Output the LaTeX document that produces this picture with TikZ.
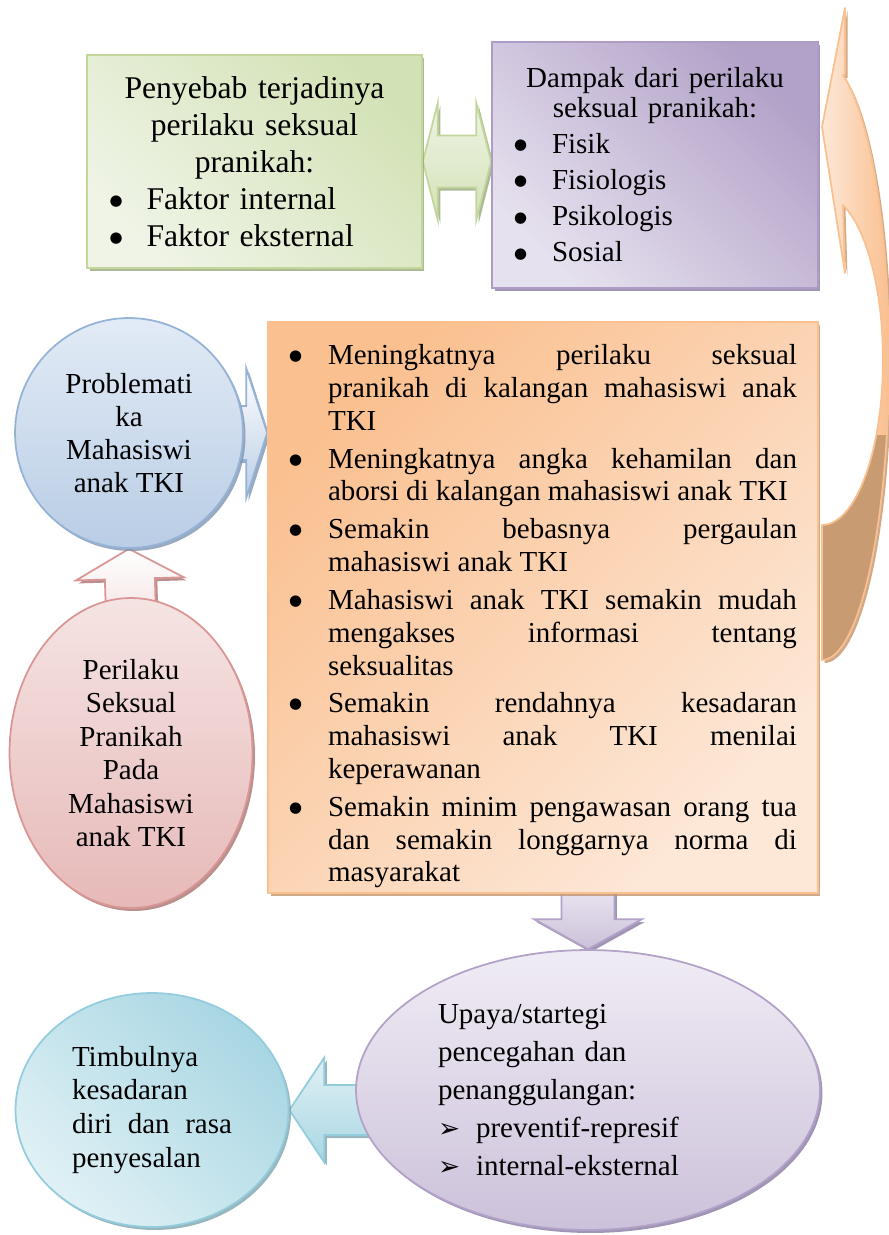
\documentclass[tikz,border=0pt]{standalone}
\usepackage{fontspec}
\setmainfont{Liberation Serif}
\newfontfamily\dejavu{DejaVu Sans}
\usetikzlibrary{shapes.geometric,shadows,calc,backgrounds}

\definecolor{hijaugaris}{HTML}{C3D69B}
\definecolor{hijautua}{HTML}{D3E2B6}
\definecolor{hijaumuda}{HTML}{EFF4E6}
\definecolor{hijaubayang}{HTML}{97A97A}
\definecolor{ungugaris}{HTML}{AE9CC6}
\definecolor{ungutua}{HTML}{B2A1C8}
\definecolor{ungumuda}{HTML}{E6E1EE}
\definecolor{ungubayang}{HTML}{8A7AA3}
\definecolor{oranyegaris}{HTML}{FAC090}
\definecolor{oranyemuda}{HTML}{FDE8D8}
\definecolor{oranyebayang}{HTML}{C4936B}
\definecolor{birugaris}{HTML}{95B3D7}
\definecolor{birutua}{HTML}{B9CDE5}
\definecolor{birumuda}{HTML}{E2EBF6}
\definecolor{birubayang}{HTML}{7F95B0}
\definecolor{merahgaris}{HTML}{D99694}
\definecolor{merahtua}{HTML}{E6B9B8}
\definecolor{merahmuda}{HTML}{F5E4E3}
\definecolor{merahbayang}{HTML}{A87472}
\definecolor{lavgaris}{HTML}{B3A2C7}
\definecolor{lavtua}{HTML}{CCC1DA}
\definecolor{lavmuda}{HTML}{F0ECF5}
\definecolor{toscagaris}{HTML}{93CDDD}
\definecolor{toscatua}{HTML}{A8D6E3}
\definecolor{toscamuda}{HTML}{E0F1F5}
\definecolor{toscabayang}{HTML}{7FA4AE}
\definecolor{coklat}{HTML}{C99B73}

\newcommand{\titik}[1]{\makebox[#1][l]{\raisebox{2.2pt}{\dejavu\fontsize{8.5}{8.5}\selectfont ●}}}
\newcommand{\poin}[1]{\par\hangindent=0.78cm\hangafter=1\noindent\titik{0.78cm}#1\par}
\newcommand{\panahkanan}[1]{\makebox[#1][l]{\dejavu\fontsize{15}{15}\selectfont ➢}}

\newcommand{\panahsatu}[6]{%
  \path ($(#3)!#6!(#2)$) coordinate (leher);
  \draw[#1] ($(#2)!#4!90:(#3)$) -- ($(leher)!#4!90:(#3)$) -- ($(leher)!#5!90:(#3)$) -- (#3)
    -- ($(leher)!#5!-90:(#3)$) -- ($(leher)!#4!-90:(#3)$) -- ($(#2)!#4!-90:(#3)$) -- cycle;}
\newcommand{\panahdua}[6]{%
  \path ($(#2)!#6!(#3)$) coordinate (leherA) ($(#3)!#6!(#2)$) coordinate (leherB);
  \draw[#1] (#2) -- ($(leherA)!#5!90:(#3)$) -- ($(leherA)!#4!90:(#3)$) -- ($(leherB)!#4!-90:(#2)$)
    -- ($(leherB)!#5!-90:(#2)$) -- (#3) -- ($(leherB)!#5!90:(#2)$) -- ($(leherB)!#4!90:(#2)$)
    -- ($(leherA)!#4!-90:(#3)$) -- ($(leherA)!#5!-90:(#3)$) -- cycle;}

\newcommand{\jalurlengkung}{(845,8) -- (845,75)
  -- plot[domain=-71.8:90, samples=60, variable=\t] ({822+67*cos(\t)},{360+300*sin(\t)})
  -- (822,525)
  -- plot[domain=90:-69.9, samples=60, variable=\t] ({822+61*cos(\t)},{360+165*sin(\t)})
  -- (845,273) -- (822,127) -- cycle}

\tikzset{
  bayangan/.style={drop shadow={shadow xshift=0.05cm, shadow yshift=-0.06cm, fill=#1, opacity=0.8}},
  kotak/.style={rectangle, line width=1pt, inner sep=0pt},
  elips/.style={ellipse, line width=1pt, inner sep=0pt},
  panah/.style={line width=1pt, line join=miter},
}

\begin{document}
\begin{tikzpicture}[x=0.02cm, y=-0.02cm]
  \useasboundingbox (0,0) rectangle (889,1235);

  \node[kotak, draw=hijaugaris, top color=hijautua, bottom color=hijaumuda, shading angle=-45,
    bayangan=hijaubayang, minimum width=6.7cm, minimum height=4.26cm, text width=5.8cm, align=left,
    font=\fontsize{18}{21}\selectfont] (penyebab) at (254.5,161.5)
    {{\centering Penyebab terjadinya\\ perilaku seksual\\ pranikah:\par}
     \titik{0.74cm}Faktor internal\\ \titik{0.74cm}Faktor eksternal};

  \node[kotak, draw=ungugaris, top color=ungutua, bottom color=ungumuda, shading angle=-45,
    bayangan=ungubayang, minimum width=6.52cm, minimum height=4.92cm, text width=5.64cm, align=left,
    font=\fontsize{16.5}{17}\selectfont] (dampak) at (655,165)
    {{\centering Dampak dari perilaku\\ seksual pranikah:\par}
     {\fontsize{16.5}{20.5}\selectfont \titik{0.76cm}Fisik\\ \titik{0.76cm}Fisiologis\\
     \titik{0.76cm}Psikologis\\ \titik{0.76cm}Sosial\par}};

  \node[kotak, draw=oranyegaris, top color=oranyegaris, bottom color=oranyemuda, shading angle=45,
    bayangan=oranyebayang, minimum width=11cm, minimum height=11.42cm, text width=10.16cm, align=justify,
    font=\fontsize{16.5}{18.7}\selectfont] (akibat) at (543,607.5)
    {\setlength{\parskip}{2.8pt}\hyphenpenalty=10000
     \poin{Meningkatnya perilaku seksual\linebreak pranikah di kalangan mahasiswi anak\linebreak TKI}
     \poin{Meningkatnya angka kehamilan dan\linebreak aborsi di kalangan mahasiswi anak TKI}
     \poin{Semakin bebasnya pergaulan\linebreak mahasiswi anak TKI}
     \poin{Mahasiswi anak TKI semakin mudah\linebreak mengakses informasi tentang\linebreak seksualitas}
     \poin{Semakin rendahnya kesadaran\linebreak mahasiswi anak TKI menilai\linebreak keperawanan}
     \poin{Semakin minim pengawasan orang tua\linebreak dan semakin longgarnya norma di\linebreak masyarakat}};

  \node[elips, draw=birugaris, top color=birumuda, bottom color=birutua, bayangan=birubayang,
    minimum width=4.56cm, minimum height=4.6cm, align=center,
    font=\fontsize{16.5}{18.7}\selectfont] (problematika) at (129,433)
    {Problemati\\ ka\\ Mahasiswi\\ anak TKI};

  \node[elips, draw=merahgaris, top color=merahmuda, bottom color=merahtua, bayangan=merahbayang,
    minimum width=4.86cm, minimum height=6.2cm, align=center,
    font=\fontsize{16.5}{19}\selectfont] (perilaku) at (131,753)
    {Perilaku\\ Seksual\\ Pranikah\\ Pada\\ Mahasiswi\\ anak TKI};

  \node[elips, draw=lavgaris, top color=lavmuda, bottom color=lavtua, bayangan=ungubayang,
    minimum width=9.28cm, minimum height=5.6cm, text width=6cm, align=left,
    font=\fontsize{16.5}{21.5}\selectfont] (upaya) at (588,1090)
    {Upaya/startegi\\ pencegahan dan\\ penanggulangan:\\
     \panahkanan{0.76cm}preventif-represif\\ \panahkanan{0.76cm}internal-eksternal};

  \node[elips, draw=toscagaris, top color=toscatua, bottom color=toscamuda, shading angle=-45,
    bayangan=toscabayang, minimum width=5.46cm, minimum height=4.68cm, text width=3.2cm, align=justify,
    font=\fontsize{16.5}{19.3}\selectfont] (kesadaran) at (152,1110)
    {Timbulnya\\ kesadaran\\ diri dan rasa\linebreak penyesalan};

  \coordinate (ujungA) at (penyebab.east -| dampak.west);
  \coordinate (pangkalB) at ($(perilaku.north)+(0,20)$);
  \coordinate (ujungC) at (problematika.east -| akibat.west);
  \coordinate (pangkalD) at ($(akibat.south -| upaya.north)+(0,-20)$);
  \coordinate (pangkalE) at ($(kesadaran.east -| upaya.west)+(40,0)$);

  \begin{scope}[on background layer]
    \panahdua{panah, draw=hijaugaris, top color=hijaumuda, bottom color=hijautua, bayangan=hijaubayang}{penyebab.east}{ujungA}{0.52cm}{1.18cm}{0.3cm}
    \panahsatu{panah, draw=merahgaris, top color=white, bottom color=merahmuda, bayangan=merahbayang}{pangkalB}{problematika.south}{0.5cm}{1.08cm}{0.6cm}
    \panahsatu{panah, draw=birugaris, top color=white, bottom color=birutua, bayangan=birubayang}{problematika.center}{ujungC}{0.54cm}{1.3cm}{0.42cm}
    \panahsatu{panah, draw=lavgaris, top color=lavmuda, bottom color=lavtua, bayangan=ungubayang}{pangkalD}{upaya.north}{0.53cm}{1.08cm}{0.6cm}
    \panahsatu{panah, draw=toscagaris, top color=toscamuda, bottom color=toscatua, bayangan=toscabayang}{pangkalE}{kesadaran.east}{0.5cm}{1.05cm}{0.7cm}
  \end{scope}

  \path[left color=oranyemuda, right color=oranyegaris, bayangan=oranyebayang] \jalurlengkung;
  \begin{scope}
    \clip \jalurlengkung;
    \fill[coklat] (800,435) rectangle (895,680);
  \end{scope}
  \draw[line width=1pt, draw=oranyegaris, line join=round] \jalurlengkung;
\end{tikzpicture}
\end{document}
